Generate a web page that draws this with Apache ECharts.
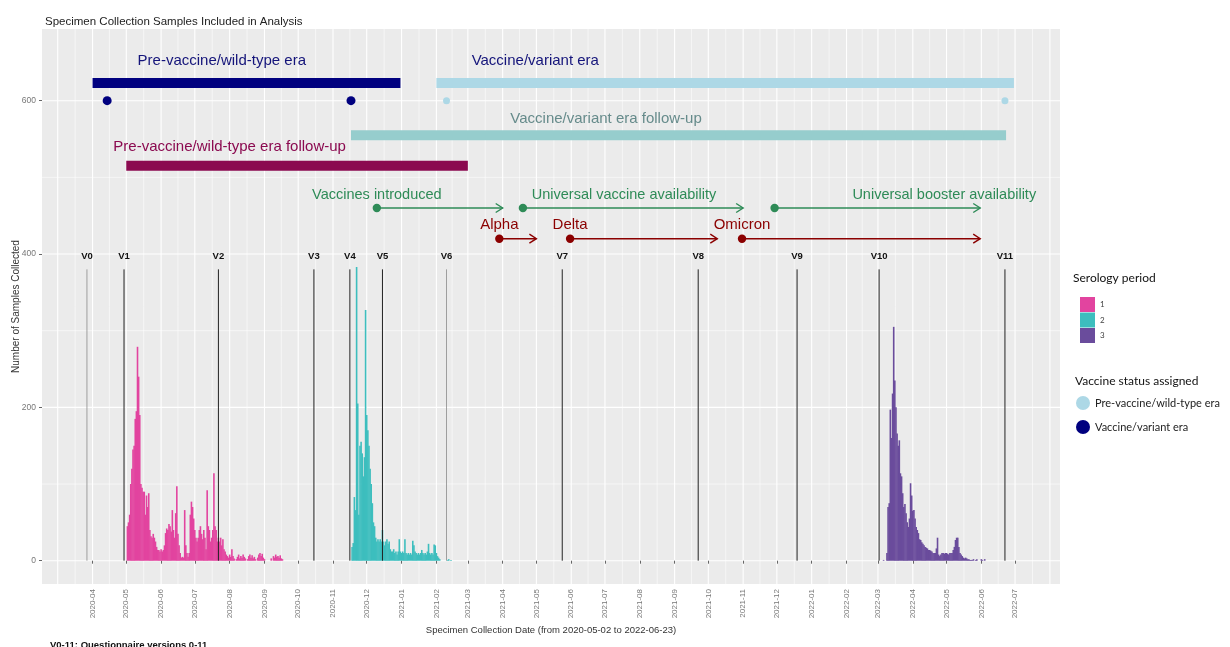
<!DOCTYPE html>
<html><head><meta charset="utf-8">
<script src="https://cdn.jsdelivr.net/npm/echarts@6/dist/echarts.min.js"></script>
<style>html,body{margin:0;padding:0;background:#fff}#c{width:1230px;height:647px}</style>
</head><body><div id="c"></div><script>
// ---------------- DATA ----------------
const xTickLabels = ['2020-04','2020-05','2020-06','2020-07','2020-08','2020-09','2020-10','2020-11','2020-12',
  '2021-01','2021-02','2021-03','2021-04','2021-05','2021-06','2021-07','2021-08','2021-09','2021-10','2021-11','2021-12',
  '2022-01','2022-02','2022-03','2022-04','2022-05','2022-06','2022-07'];
const yTickLabels = [0, 200, 400, 600];

const period1Start = '2020-05-02';
const period1Counts = [45,50,60,100,120,145,150,185,195,279,240,190,100,95,90,90,60,85,70,88,40,32,30,35,30,25,18,14,14,12,15,12,14,20,36,42,40,48,45,38,66,40,30,62,97,35,20,10,4,5,4,66,20,10,5,10,60,77,70,55,40,30,25,30,40,45,35,28,40,30,15,92,45,40,25,30,40,114,45,40,25,30,25,30,20,28,15,12,8,6,4,8,5,15,6,3,0,2,5,8,3,6,4,8,5,3,0,2,6,8,4,7,3,5,2,0,4,8,10,6,9,4,2,0,0,0,0,0,3,0,6,4,8,5,6,4,7,3,2];
const period2Start = '2020-11-18';
const period2Counts = [18,23,83,66,383,205,60,150,155,140,110,135,327,190,170,150,120,100,75,50,45,30,25,28,25,28,25,40,25,20,25,28,22,25,15,12,12,15,10,12,8,12,28,12,10,12,10,28,10,8,10,8,10,8,26,20,12,10,8,10,8,10,14,10,8,10,8,12,22,10,8,10,8,21,20,10,6,4,2,0,0,0,0,0,0,1,2,0,1];
const period3Start = '2022-03-06';
const period3Counts = [1,0,0,10,70,75,197,160,218,305,235,200,166,150,157,114,110,88,70,74,62,50,44,55,101,85,65,66,55,44,40,36,28,27,24,22,20,18,17,16,14,14,13,12,10,10,10,16,30,8,6,8,10,10,9,10,10,9,8,10,10,10,14,18,27,30,30,18,10,8,6,4,3,4,3,2,2,1,1,1,2,0,1,2,0,0,0,2,1,0,2];

const visitNames = ['V0','V1','V2','V3','V4','V5','V6','V7','V8','V9','V10','V11'];
const visitDates = ['2020-03-27','2020-04-29','2020-07-22','2020-10-15','2020-11-16','2020-12-15','2021-02-10','2021-05-24','2021-09-22','2021-12-19','2022-03-02','2022-06-22'];

const eraNames  = ['Pre-vaccine/wild-type era','Vaccine/variant era','Vaccine/variant era follow-up','Pre-vaccine/wild-type era follow-up'];
const eraStarts = ['2020-04-01','2021-02-01','2020-11-17','2020-05-01'];
const eraEnds   = ['2020-12-31','2022-06-30','2022-06-23','2021-03-01'];
const eraLabelDates = ['2020-07-25','2021-04-30','2021-07-02','2020-08-01'];

const eventNames  = ['Vaccines introduced','Universal vaccine availability','Universal booster availability'];
const eventStarts = ['2020-12-10','2021-04-19','2021-11-29'];
const eventEnds   = ['2021-04-01','2021-11-01','2022-05-31'];
const eventLabelDates = ['2020-12-10','2021-07-18','2022-04-29'];

const variantNames  = ['Alpha','Delta','Omicron'];
const variantStarts = ['2021-03-29','2021-05-31','2021-10-31'];
const variantEnds   = ['2021-05-01','2021-10-09','2022-05-31'];

const statusNames = ['Pre-vaccine/wild-type era','Vaccine/variant era'];
const preVaccineDotDates = ['2021-02-10','2022-06-22'];
const vaccineDotDates = ['2020-04-14','2020-11-17'];
const dotValue = 600;

// ---------------- LAYOUT / STYLE ----------------
const L = { eraBar:[623,623,555,515], eraText:[652,652,576,540], eventLine:460, eventText:477, variantLine:420, variantText:438, visitTop:380, visitText:397 };
const C = { p1:'#E2449F', p2:'#3DBEBE', p3:'#6A4C9C', navy:'#00007F', light:'#ADD8E6', fup:'#96CDCD', maroon:'#8B0A50', green:'#2E8B57', red:'#8B0000' };
const eraColors = [C.navy, C.light, C.fup, C.maroon];
const eraTextColors = ['#14147a','#14147a','#668B8B', C.maroon];
const FONT = '"Liberation Sans", Arial, sans-serif';

const DAY = 86400000;
const t = s => Date.parse(s + 'T00:00:00Z');
const daily = (start, counts) => counts.map((v, i) => [t(start) + i * DAY, v]);
const monthTicks = xTickLabels.map(s => t(s + '-01'));
const gridMonths = ['2020-03', ...xTickLabels, '2022-08'].map(s => t(s + '-01'));
const vGrid = [];
gridMonths.forEach((m, i) => { vGrid.push([m, 1]); if (i < gridMonths.length - 1) vGrid.push([(m + gridMonths[i + 1]) / 2, 0]); });
const X_MIN = t('2020-02-16'), X_MAX = t('2022-08-10');
const hGrid = [[X_MIN,0,1],[X_MIN,100,0],[X_MIN,200,1],[X_MIN,300,0],[X_MIN,400,1],[X_MIN,500,0],[X_MIN,600,1]];

const chart = echarts.init(document.getElementById('c'), null, {renderer:'canvas'});

const textEl = (x, y, text, color, font, align) => ({ type:'text', x, y, style:{ text, fill:color, font, align: align || 'center', verticalAlign:'middle' } });

const option = {
  animation: false,
  backgroundColor: '#ffffff',
  title: [
    { text:'Specimen Collection Samples Included in Analysis', left:40, top:11, textStyle:{ fontFamily:FONT, fontSize:11.5, fontWeight:'normal', color:'#222' } },
    { text:'Serology period', left:1068, top:267, textStyle:{ fontFamily:'Lato', fontSize:12, fontWeight:'normal', color:'#111' } },
    { text:'Vaccine status assigned', left:1070, top:370, textStyle:{ fontFamily:'Lato', fontSize:12, fontWeight:'normal', color:'#111' } },
    { text:'V0-11: Questionnaire versions 0-11', left:45, top:635, textStyle:{ fontFamily:FONT, fontSize:9.5, fontWeight:'bold', color:'#111' } }
  ],
  legend: [
    { data:['1','2','3'], orient:'vertical', left:1075, top:292, itemWidth:15, itemHeight:15, itemGap:0.5, icon:'rect', selectedMode:false,
      textStyle:{ fontFamily:'Lato', fontSize:8, color:'#444' } },
    { data:statusNames, orient:'vertical', left:1071, top:391, itemWidth:14, itemHeight:14, itemGap:10, icon:'circle', selectedMode:false,
      textStyle:{ fontFamily:'Lato', fontSize:11, color:'#222' } }
  ],
  grid: { left:42, right:170, top:29, bottom:63, show:true, backgroundColor:'#EBEBEB', borderWidth:0, containLabel:false, outerBoundsMode:'none' },
  xAxis: {
    type:'value', min:X_MIN, max:X_MAX, scale:true,
    axisLine:{ show:false },
    axisTick:{ show:true, customValues:monthTicks, length:3, lineStyle:{ color:'#666', width:1 } },
    axisLabel:{ customValues:monthTicks, rotate:90, margin:5, fontFamily:FONT, fontSize:8, color:'#777',
      formatter: v => xTickLabels[monthTicks.indexOf(v)] || '' },
    splitLine:{ show:false },
    name:'Specimen Collection Date (from 2020-05-02 to 2022-06-23)', nameLocation:'middle', nameGap:41, nameMoveOverlap:false,
    nameTextStyle:{ fontFamily:FONT, fontSize:9.5, color:'#333' }
  },
  yAxis: {
    type:'value', min:-30.4, max:693.5,
    axisLine:{ show:false },
    axisTick:{ show:true, customValues:yTickLabels, length:3, lineStyle:{ color:'#666' } },
    axisLabel:{ customValues:yTickLabels, margin:6, fontFamily:FONT, fontSize:8.5, color:'#777' },
    splitLine:{ show:false },
    name:'Number of Samples Collected', nameLocation:'middle', nameGap:21, nameRotate:90, nameMoveOverlap:false,
    nameTextStyle:{ fontFamily:FONT, fontSize:10, color:'#333' }
  },
  series: [
    { type:'custom', name:'vgrid', z:0, silent:true, data:vGrid,
      renderItem:(p, api) => { const cs = p.coordSys; const x = api.coord([api.value(0), 0])[0];
        return { type:'line', shape:{ x1:x, y1:cs.y, x2:x, y2:cs.y + cs.height }, style:{ stroke:'#ffffff', lineWidth: api.value(1) ? 1.1 : 0.55 } }; } },
    { type:'custom', name:'hgrid', z:0, silent:true, data:hGrid,
      renderItem:(p, api) => { const cs = p.coordSys; const y = api.coord([api.value(0), api.value(1)])[1];
        return { type:'line', shape:{ x1:cs.x, y1:y, x2:cs.x + cs.width, y2:y }, style:{ stroke:'#ffffff', lineWidth: api.value(2) ? 1.1 : 0.55 } }; } },
    { type:'bar', name:'1', data:daily(period1Start, period1Counts), barWidth:1.6, barGap:'-100%', z:2, itemStyle:{ color:C.p1 }, silent:true },
    { type:'bar', name:'2', data:daily(period2Start, period2Counts), barWidth:1.6, barGap:'-100%', z:2, itemStyle:{ color:C.p2 }, silent:true },
    { type:'bar', name:'3', data:daily(period3Start, period3Counts), barWidth:1.6, barGap:'-100%', z:2, itemStyle:{ color:C.p3 }, silent:true },
    { type:'custom', name:'visits', z:3, silent:true, data:visitDates.map((d, i) => [t(d), i]),
      renderItem:(p, api) => { const i = api.value(1); const x = api.coord([api.value(0), 0]);
        const top = api.coord([api.value(0), L.visitTop]); const lab = api.coord([api.value(0), L.visitText]);
        const gray = (i === 0 || i === 6);
        return { type:'group', children:[
          { type:'line', shape:{ x1:x[0], y1:x[1], x2:top[0], y2:top[1] }, style:{ stroke: gray ? '#8a8a8a' : '#222', lineWidth: gray ? 0.8 : 1 } },
          textEl(lab[0], lab[1], visitNames[i], '#111', 'bold 9.5px ' + FONT)
        ]}; } },
    { type:'custom', name:'eras', z:4, silent:true, data:eraStarts.map((d, i) => [t(d), t(eraEnds[i]), i]),
      renderItem:(p, api) => { const i = api.value(2);
        const a = api.coord([api.value(0), L.eraBar[i]]), b = api.coord([api.value(1), L.eraBar[i]]);
        const lab = api.coord([t(eraLabelDates[i]), L.eraText[i]]);
        return { type:'group', children:[
          { type:'line', shape:{ x1:a[0], y1:a[1], x2:b[0], y2:b[1] }, style:{ stroke:eraColors[i], lineWidth:10, lineCap:'butt' } },
          textEl(lab[0], lab[1], eraNames[i], eraTextColors[i], '15px ' + FONT)
        ]}; } },
    { type:'custom', name:'arrows', z:4, silent:true,
      data: eventStarts.map((d, i) => [t(d), t(eventEnds[i]), 0, i]).concat(variantStarts.map((d, i) => [t(d), t(variantEnds[i]), 1, i])),
      renderItem:(p, api) => { const kind = api.value(2), i = api.value(3);
        const lvl = kind ? L.variantLine : L.eventLine, tl = kind ? L.variantText : L.eventText;
        const col = kind ? C.red : C.green;
        const a = api.coord([api.value(0), lvl]), b = api.coord([api.value(1), lvl]);
        const labX = kind ? api.value(0) : t(eventLabelDates[i]);
        const lab = api.coord([labX, tl]);
        const name = kind ? variantNames[i] : eventNames[i];
        return { type:'group', children:[
          { type:'line', shape:{ x1:a[0], y1:a[1], x2:b[0], y2:b[1] }, style:{ stroke:col, lineWidth:1.4 } },
          { type:'circle', shape:{ cx:a[0], cy:a[1], r:4.2 }, style:{ fill:col } },
          { type:'polyline', shape:{ points:[[b[0]-7, b[1]-4.5],[b[0], b[1]],[b[0]-7, b[1]+4.5]] }, style:{ stroke:col, fill:null, lineWidth:1.4 } },
          textEl(lab[0], lab[1], name, col, (kind ? '15px ' : '14.5px ') + FONT)
        ]}; } },
    { type:'scatter', name:statusNames[0], z:5, silent:true, symbol:'circle', symbolSize:7, itemStyle:{ color:C.light, opacity:1 },
      data: preVaccineDotDates.map(d => [t(d), dotValue]) },
    { type:'scatter', name:statusNames[1], z:5, silent:true, symbol:'circle', symbolSize:9, itemStyle:{ color:C.navy, opacity:1 },
      data: vaccineDotDates.map(d => [t(d), dotValue]) }
  ]
};
chart.setOption(option);
</script></body></html>
